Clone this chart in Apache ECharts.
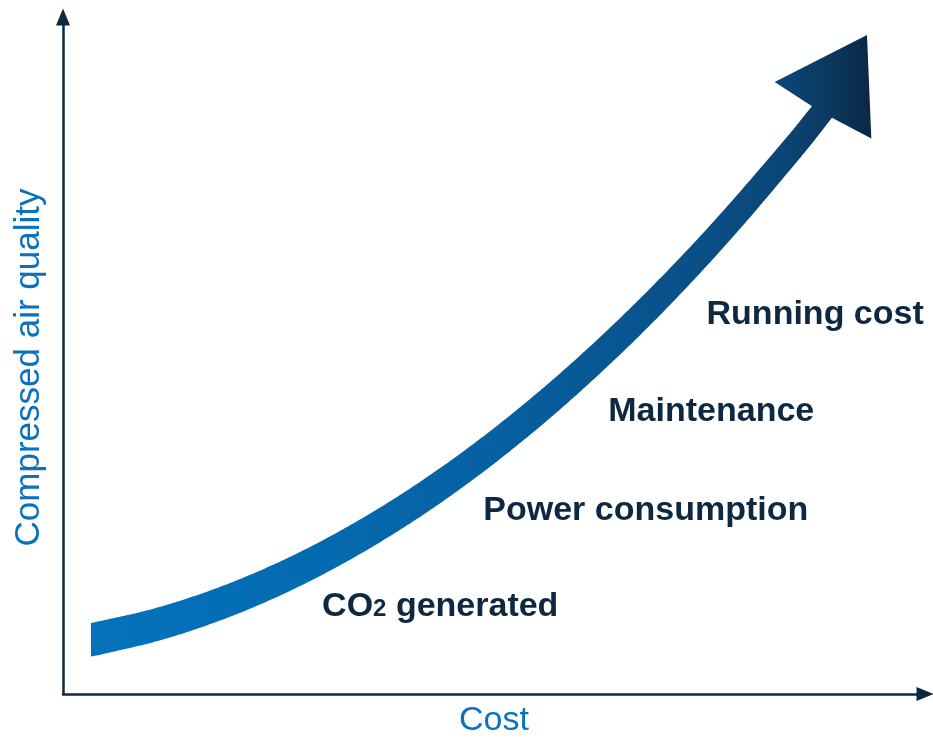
<!DOCTYPE html>
<html><head><meta charset="utf-8">
<script src="https://cdn.jsdelivr.net/npm/echarts@6/dist/echarts.min.js"></script>
<style>html,body{margin:0;padding:0;background:#fff}#chart{width:933px;height:738px}</style>
</head><body><div id="chart"></div>
<script>
// Curve (centre line of the thick arrow), in axis units 0..100
const curveX = [3.25, 11.25, 19.37, 27.49, 35.61, 43.74, 51.86, 59.98, 68.10, 76.22, 84.34, 88.05];
const curveY = [7.98, 10.40, 13.90, 18.46, 24.09, 30.77, 38.52, 47.33, 57.19, 68.12, 80.12, 85.97];
const arrowTip = [93.27, 97.34];
// Annotations
const labelNames = ['CO2 generated', 'Power consumption', 'Maintenance', 'Running cost'];
const labelX = [30.0, 48.7, 63.2, 74.6];
const labelY = [13.3, 27.6, 42.2, 56.5];
const xTitle = 'Cost';
const yTitle = 'Compressed air quality';

const FONT = "'Liberation Sans', Arial, Helvetica, sans-serif";
const NAVY = '#0e2842';
const BLUE = '#0a72bc';

function catmull(pts, steps) {
  const out = [];
  const n = pts.length;
  for (let i = 0; i < n - 1; i++) {
    const p1 = pts[i], p2 = pts[i + 1];
    const p0 = i > 0 ? pts[i - 1] : [2 * p1[0] - p2[0], 2 * p1[1] - p2[1]];
    const p3 = i + 2 < n ? pts[i + 2] : [2 * p2[0] - p1[0], 2 * p2[1] - p1[1]];
    for (let s = 0; s < steps; s++) {
      const t = s / steps, t2 = t * t, t3 = t2 * t;
      const f = k => 0.5 * (2 * p1[k] + (-p0[k] + p2[k]) * t + (2 * p0[k] - 5 * p1[k] + 4 * p2[k] - p3[k]) * t2 + (-p0[k] + 3 * p1[k] - 3 * p2[k] + p3[k]) * t3);
      out.push([f(0), f(1)]);
    }
  }
  out.push(pts[n - 1]);
  return out;
}

function renderArrow(params, api) {
  const pts = curveX.map((x, i) => api.coord([x, curveY[i]]));
  const tip = api.coord(arrowTip);
  const s = catmull(pts, 24);
  const n = s.length;
  const cum = [0];
  for (let i = 1; i < n; i++) cum.push(cum[i - 1] + Math.hypot(s[i][0] - s[i - 1][0], s[i][1] - s[i - 1][1]));
  const total = cum[n - 1];
  const w0 = 33, w1 = 23;
  const E = s[n - 1];
  let dx = tip[0] - E[0], dy = tip[1] - E[1];
  const dl = Math.hypot(dx, dy); dx /= dl; dy /= dl;
  const hx = -dy, hy = dx;
  const left = [], right = [];
  for (let i = 0; i < n; i++) {
    const a = s[Math.max(i - 1, 0)], b = s[Math.min(i + 1, n - 1)];
    let nx = -(b[1] - a[1]), ny = b[0] - a[0];
    const l = Math.hypot(nx, ny); nx /= l; ny /= l;
    if (i === 0) { nx = 0; ny = 1; }
    if (i === n - 1) { nx = hx; ny = hy; }
    const w = (w0 + (w1 - w0) * cum[i] / total) / 2;
    left.push([s[i][0] - nx * w, s[i][1] - ny * w]);
    right.push([s[i][0] + nx * w, s[i][1] + ny * w]);
  }
  const H = 56, back = 2;
  const head = [
    [E[0] - hx * H + dx * back, E[1] - hy * H + dy * back],
    tip,
    [E[0] + hx * H + dx * back, E[1] + hy * H + dy * back]
  ];
  const poly = left.concat(head, right.reverse());
  const x0 = pts[0][0], x1 = tip[0] + 6;
  return {
    type: 'polygon',
    shape: { points: poly },
    style: {
      fill: {
        type: 'linear', x: x0, y: 0, x2: x1, y2: 0, global: true,
        colorStops: [
          { offset: 0, color: '#0373bc' },
          { offset: 0.3, color: '#046aaf' },
          { offset: 0.5, color: '#0661a3' },
          { offset: 0.78, color: '#0a4f86' },
          { offset: 0.88, color: '#0b4678' },
          { offset: 0.94, color: '#0b3a62' },
          { offset: 1, color: '#0c2742' }
        ]
      }
    }
  };
}

const chart = echarts.init(document.getElementById('chart'), null, { renderer: 'canvas' });
const axisCommon = {
  type: 'value', min: 0, max: 100,
  axisTick: { show: false }, axisLabel: { show: false }, splitLine: { show: false },
  axisLine: { show: true, onZero: false, symbol: ['none', 'triangle'], symbolSize: [14, 17],
    lineStyle: { color: '#0d2840', width: 2.5 } }
};
chart.setOption({
  animation: false,
  grid: { left: 63, right: 8, top: 17, bottom: 44, outerBoundsMode: 'none', containLabel: false },
  xAxis: Object.assign({}, axisCommon, {
    name: xTitle, nameLocation: 'middle', nameGap: 10,
    nameTextStyle: { fontSize: 34, color: BLUE, fontFamily: FONT }
  }),
  yAxis: Object.assign({}, axisCommon, {
    name: yTitle, nameLocation: 'middle', nameGap: 16, nameRotate: 90,
    nameTextStyle: { fontSize: 35, color: BLUE, fontFamily: FONT, padding: [0, 24, 0, 0] }
  }),
  series: [
    {
      type: 'custom', coordinateSystem: 'cartesian2d', silent: true, clip: false,
      renderItem: renderArrow,
      data: [[curveX[0], curveY[0]]]
    },
    {
      type: 'scatter', silent: true, symbolSize: 1,
      itemStyle: { color: 'rgba(0,0,0,0)', opacity: 1 },
      data: labelX.map((x, i) => ({ value: [x, labelY[i]], name: labelNames[i] })),
      label: {
        show: true, position: 'right', distance: 0, opacity: 1,
        formatter: p => '{a|' + p.name.replace('CO2', 'CO}{s|2}{a|') + '}',
        rich: {
          a: { fontSize: 34, fontWeight: 'bold', color: NAVY, fontFamily: FONT, lineHeight: 40, verticalAlign: 'bottom' },
          s: { fontSize: 24, fontWeight: 'bold', color: NAVY, fontFamily: FONT, lineHeight: 34, verticalAlign: 'bottom', padding: [0, 0, 3, 0] }
        }
      }
    }
  ]
});
</script></body></html>
